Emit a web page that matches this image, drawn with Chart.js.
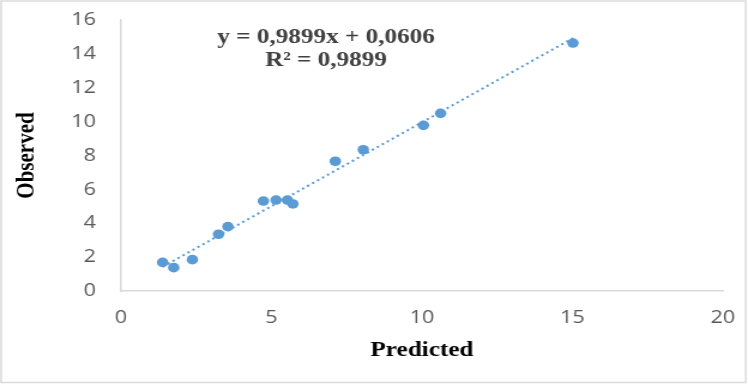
<html><head><meta charset="utf-8">
<script src="https://cdn.jsdelivr.net/npm/chart.js@4.4.0/dist/chart.umd.min.js"></script>
<style>
 body { margin:0; background:#fff; overflow:hidden; }
 /* the reference picture is stretched sideways, so draw narrow and stretch */
 #wrap { position:relative; width:624px; height:384px; transform:scale(1.1987, 1); transform-origin:0 0; }
</style>
</head>
<body>
<div id="wrap"><canvas id="myChart" width="624" height="384"></canvas></div>
<script>
// values
var predicted = [1.38, 1.75, 2.37, 3.24, 3.55, 4.73, 5.15, 5.53, 5.71, 7.12, 8.05, 10.05, 10.62, 15.02];
var observed  = [1.69, 1.38, 1.85, 3.35, 3.80, 5.31, 5.37, 5.37, 5.14, 7.66, 8.34, 9.78, 10.49, 14.64];
var xTicks = [0, 5, 10, 15, 20];
var yTicks = [0, 2, 4, 6, 8, 10, 12, 14, 16];
var slope = 0.9899, intercept = 0.0606;
var eqLines = ['y = 0,9899x + 0,0606', 'R\u00b2 = 0,9899'];

var points = predicted.map(function (x, i) { return {x: x, y: observed[i]}; });
var xMin = Math.min.apply(null, predicted), xMax = Math.max.apply(null, predicted);
var trend = [{x: xMin, y: slope * xMin + intercept}, {x: xMax, y: slope * xMax + intercept}];

var frame = {
  id: 'frame',
  beforeDraw: function (chart) {
    var c = chart.ctx;
    c.save();
    c.fillStyle = '#fff';
    c.fillRect(0, 0, chart.width, chart.height);
    c.strokeStyle = '#d9d9d9';
    c.lineWidth = 1.4;
    c.strokeRect(0.9, 1, 621.2, 381.5);
    c.restore();
  },
  afterDraw: function (chart) {
    var c = chart.ctx;
    c.save();
    c.fillStyle = '#404040';
    c.font = 'bold 21px "Liberation Serif"';
    c.textAlign = 'center';
    c.textBaseline = 'middle';
    c.fillText(eqLines[0], 272, 38);
    c.fillText(eqLines[1], 272, 61);
    c.restore();
  }
};

var tickFont = {family: 'Open Sans', size: 18};
var titleFont = {family: 'Liberation Serif', size: 21, weight: 'bold'};

var ctx = document.getElementById('myChart');
var myChart = new Chart(ctx, {
  type: 'scatter',
  data: {
    datasets: [{
      data: points,
      backgroundColor: '#5b9bd5',
      borderColor: '#5b9bd5',
      pointRadius: 4.8,
      pointBorderWidth: 0,
      order: 1
    }, {
      type: 'line',
      data: trend,
      borderColor: '#5b9bd5',
      borderWidth: 2,
      borderDash: [2, 3],
      pointRadius: 0,
      fill: false,
      order: 2
    }]
  },
  plugins: [frame],
  options: {
    responsive: false,
    animation: false,
    events: [],
    layout: {padding: {left: 0, top: 20, right: 21, bottom: 0}},
    plugins: {legend: {display: false}, tooltip: {enabled: false}},
    scales: {
      x: {
        type: 'linear', min: 0, max: 20,
        afterBuildTicks: function (s) { s.ticks = xTicks.map(function (v) { return {value: v}; }); },
        afterFit: function (s) { s.height = 93; },
        grid: {display: false, drawTicks: true, tickLength: 16},
        border: {display: true, color: '#d9d9d9', width: 1.5},
        ticks: {color: '#595959', font: tickFont, padding: 0, maxRotation: 0},
        title: {display: true, text: 'Predicted', color: '#000', font: titleFont, padding: {top: 0, bottom: 21}}
      },
      y: {
        type: 'linear', min: 0, max: 16,
        afterBuildTicks: function (s) { s.ticks = yTicks.map(function (v) { return {value: v}; }); },
        afterFit: function (s) { s.width = 101; },
        grid: {display: false, drawTicks: true, tickLength: 21},
        border: {display: true, color: '#d9d9d9', width: 1.5},
        ticks: {color: '#595959', font: tickFont, padding: 0},
        title: {display: true, text: 'Observed', color: '#000', font: titleFont, padding: {top: 10, bottom: 0}}
      }
    }
  }
});
</script>
</body></html>
